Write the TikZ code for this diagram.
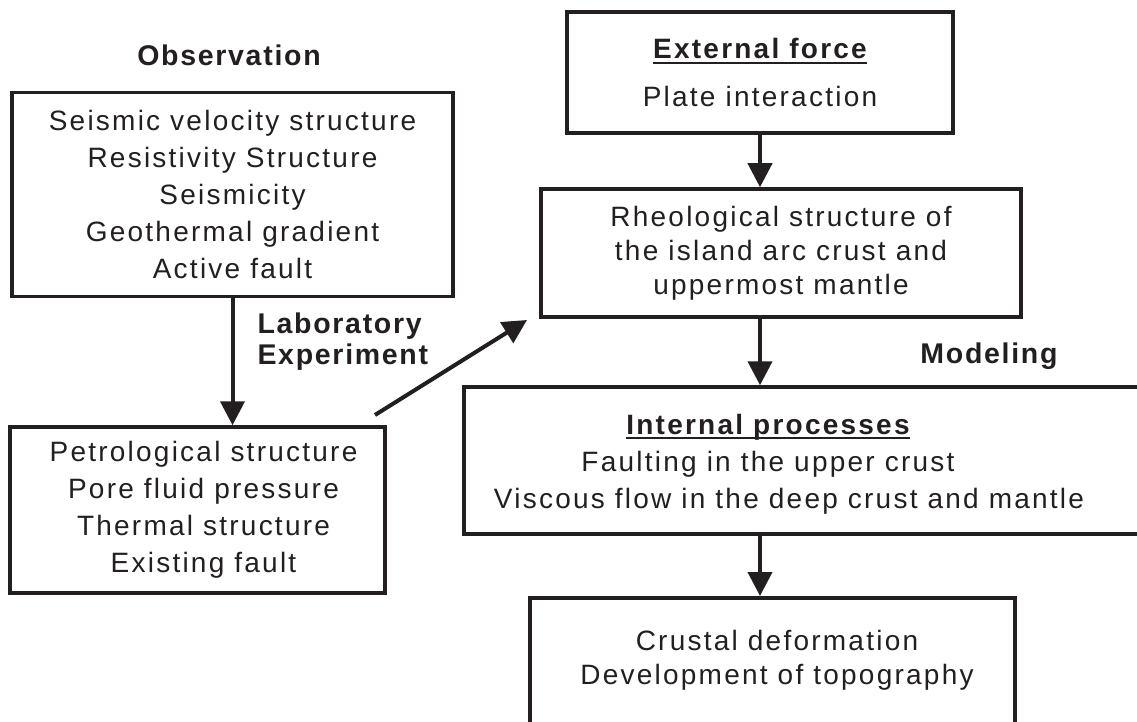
\documentclass[tikz,border=0pt]{standalone}
\usepackage{fontspec}
\usepackage{xcolor}
\usepackage{tikz}
\usetikzlibrary{positioning,calc,arrows.meta}

\newfontfamily\diagfont[LetterSpace=8]{Liberation Sans}
\newfontfamily\headfont[LetterSpace=6]{Liberation Sans}
\newcommand{\bodyfont}{\diagfont\fontsize{28}{37}\selectfont}
\newcommand{\tightfont}{\diagfont\fontsize{28}{34}\selectfont}
\newcommand{\ulined}[1]{\leavevmode\setbox0=\hbox{#1}\rlap{\rule[-5pt]{\wd0}{2pt}}\box0}
\definecolor{ink}{HTML}{231F20}

\begin{document}
\begin{tikzpicture}[x=1pt,y=-1pt,
	every node/.style={font=\bodyfont, text=ink},
	box/.style={draw=ink, line width=3.5pt, inner sep=0pt, align=center},
	heading/.style={font=\headfont\bfseries\fontsize{28.5}{31}\selectfont},
	flow/.style={draw=ink, line width=4pt, -{Triangle[length=24pt,width=24pt]}}]
								\useasboundingbox (0,0) rectangle (1137,722);
								\clip (0,0) rectangle (1137,722);
								
								% left: observation and laboratory
								\node[heading] (obshead) at (229,55) {Observation};
								\node[box, minimum width=441pt, minimum height=204pt] (obs) at (232.5,194.5)
									{Seismic velocity structure\\ Resistivity Structure\\ Seismicity\\ Geothermal gradient\\ Active fault};
								\node[box, minimum width=375pt, minimum height=166pt] (petro) at (197.5,510)
									{\hspace*{12pt}Petrological structure\\ \hspace*{12pt}Pore fluid pressure\\ \hspace*{12pt}Thermal structure\\ \hspace*{12pt}Existing fault};
								\node[heading, align=left, anchor=west] (lab) at (254,342) {Laboratory\\ Experiment};
								
								% right: force, rheology, modeling
								\node[box, minimum width=386pt, minimum height=121pt] (ext) at (760,72.5)
									{\textbf{\ulined{External force}}\\[11pt] Plate interaction};
								\node[box, minimum width=480pt, minimum height=128pt, font=\tightfont] (rheo) at (781,253)
									{Rheological structure of\\ the island arc crust and\\ uppermost mantle};
								\node[heading] (model) at (989,356) {Modeling};
								\node[box, minimum width=740pt, minimum height=147pt, anchor=west] (intbox) at (462,460.5) {};
								\node[align=center] (inttext) at (768,464)
									{\textbf{\ulined{Internal processes}}\\ Faulting in the upper crust\hspace*{52pt}\\ \hspace*{42pt}Viscous flow in the deep crust and mantle};
								\node[box, minimum width=485pt, minimum height=220pt, anchor=north] (resbox) at (772.5,596) {};
								\node[align=center, font=\tightfont] (restext) at (777,660)
									{Crustal deformation\\ Development of topography};
								
								% arrows
								\coordinate (labtail) at (375,415);
								\coordinate (labhead) at (527,320);
								\draw[flow] (obs.south) -- (obs.south |- petro.north);
								\draw[flow] (labtail) -- (labhead);
								\draw[flow] (ext.south) -- (ext.south |- rheo.north);
								\draw[flow] (ext.south |- rheo.south) -- (ext.south |- intbox.north);
								\draw[flow] (ext.south |- intbox.south) -- (ext.south |- resbox.north);
							\end{tikzpicture}
\end{document}
